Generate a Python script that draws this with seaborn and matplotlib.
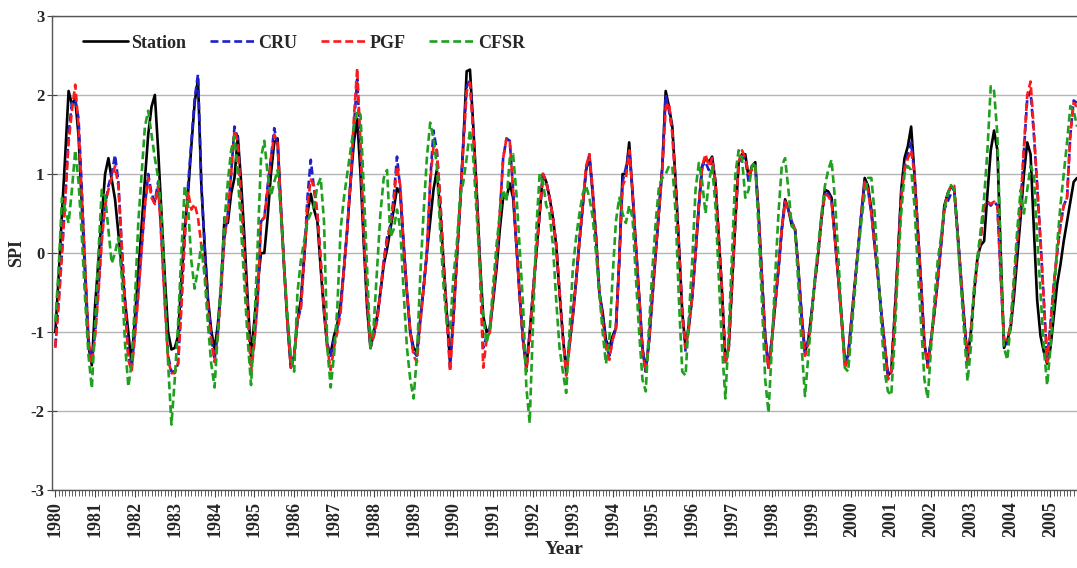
import numpy as np
import pandas as pd
import matplotlib
matplotlib.use("Agg")
import matplotlib.pyplot as plt
import seaborn as sns

# Monthly SPI series, January 1980 onwards
station = [
    -1.0, -0.3, 0.5, 1.25, 2.05, 1.88, 1.95, 1.48, 0.6, -0.3, -1.18, -1.42,
    -0.65, -0.1, 0.45, 1.0, 1.2, 0.93, 0.68, 0.25, -0.17, -0.6, -1.0, -1.41,
    -0.82, -0.25, 0.34, 0.93, 1.5, 1.85, 2.0, 1.3, 0.5, -0.3, -1.0, -1.22,
    -1.2, -1.05, -0.35, 0.3, 0.75, 1.35, 1.9, 2.2, 0.87, 0.1, -0.57, -0.98,
    -1.22, -0.9, -0.4, 0.45, 0.38, 0.75, 0.95, 1.48, 0.9, 0.2, -0.6, -1.3,
    -0.85, -0.4, 0.0, 0.0, 0.45, 1.0, 1.4, 1.45, 0.55, -0.2, -0.9, -1.45,
    -1.3, -0.85, -0.6, -0.05, 0.5, 0.75, 0.55, 0.4, -0.2, -0.75, -1.2, -1.27,
    -1.05, -0.9, -0.65, -0.2, 0.3, 0.9, 1.4, 1.7, 1.0, 0.1, -0.7, -1.2,
    -1.0, -0.8, -0.5, -0.15, 0.05, 0.3, 0.55, 0.82, 0.75, 0.1, -0.5, -1.0,
    -1.2, -1.25, -0.85, -0.45, 0.0, 0.4, 0.8, 1.05, 0.55, -0.1, -0.75, -1.4,
    -0.8, -0.1, 0.6, 1.4, 2.3, 2.32, 1.6, 0.8, -0.1, -0.8, -1.0, -0.95,
    -0.6, -0.2, 0.3, 0.7, 0.7, 0.88, 0.7, 0.1, -0.55, -1.1, -1.45, -1.0,
    -0.5, 0.0, 0.5, 1.0, 0.9, 0.7, 0.45, 0.1, -0.5, -1.05, -1.5, -1.15,
    -0.8, -0.35, 0.15, 0.6, 1.05, 1.22, 0.75, 0.2, -0.5, -0.75, -1.1, -1.2,
    -1.05, -0.95, -0.1, 1.0, 1.0, 1.4, 0.75, 0.1, -0.55, -1.2, -1.5, -1.1,
    -0.55, 0.0, 0.55, 1.1, 2.05, 1.85, 1.6, 0.9, 0.1, -0.75, -1.2, -0.9,
    -0.55, 0.0, 0.6, 1.1, 1.2, 1.15, 1.22, 0.9, 0.2, -0.5, -1.35, -1.2,
    -0.4, 0.4, 1.15, 1.25, 1.25, 0.95, 1.1, 1.15, 0.5, -0.3, -1.05, -1.45,
    -1.1, -0.65, -0.2, 0.3, 0.68, 0.55, 0.35, 0.3, -0.2, -0.8, -1.25, -1.1,
    -0.75, -0.35, 0.0, 0.45, 0.8, 0.78, 0.7, 0.2, -0.3, -0.8, -1.35, -1.3,
    -0.85, -0.4, 0.05, 0.5, 0.95, 0.85, 0.55, 0.1, -0.3, -0.75, -1.15, -1.55,
    -1.5, -0.8, -0.05, 0.8, 1.2, 1.35, 1.6, 1.0, 0.3, -0.4, -1.15, -1.4,
    -1.1, -0.75, -0.35, 0.1, 0.6, 0.75, 0.84, 0.8, 0.25, -0.3, -0.85, -1.35,
    -1.0, -0.5, -0.05, 0.1, 0.15, 0.75, 1.3, 1.55, 1.3, 0.0, -1.2, -1.1,
    -0.95, -0.55, -0.05, 0.45, 1.0, 1.4, 1.25, 0.3, -0.6, -1.05, -1.25, -1.4,
    -1.2, -0.8, -0.4, -0.15, 0.15, 0.4, 0.65, 0.9, 0.95,
]

cru = [
    -1.18, -0.6, 0.0, 0.7, 1.5, 1.9, 1.95, 1.7, 0.8, -0.2, -1.1, -1.38,
    -1.0, -0.45, 0.2, 0.6, 0.85, 1.0, 1.24, 0.9, 0.1, -0.6, -1.3, -1.45,
    -1.0, -0.5, 0.05, 0.6, 1.0, 0.75, 0.65, 0.9, 0.2, -0.6, -1.3, -1.5,
    -1.5, -1.4, -0.6, 0.2, 0.85, 1.4, 1.95, 2.26, 0.9, 0.1, -0.6, -1.05,
    -1.35, -1.0, -0.4, 0.2, 0.5, 1.0, 1.6, 1.45, 0.7, 0.0, -0.7, -1.45,
    -1.1, -0.6, 0.4, 0.45, 0.85, 1.2, 1.58, 1.35, 0.6, -0.2, -0.9, -1.4,
    -1.3, -0.85, -0.7, -0.1, 0.7, 1.18, 0.8, 0.5, -0.1, -0.7, -1.15, -1.3,
    -1.1, -0.95, -0.7, -0.2, 0.3, 0.9, 1.6, 2.2, 1.3, 0.2, -0.6, -1.2,
    -1.05, -0.85, -0.5, -0.1, 0.2, 0.35, 0.7, 1.22, 0.8, 0.1, -0.5, -1.0,
    -1.25, -1.3, -0.85, -0.45, 0.0, 0.9, 1.55, 1.3, 0.7, -0.1, -0.75, -1.45,
    -0.85, -0.1, 0.6, 1.4, 2.1, 2.2, 1.55, 0.8, -0.1, -1.2, -1.05, -0.95,
    -0.55, -0.1, 0.5, 1.2, 1.45, 1.42, 0.8, 0.1, -0.55, -1.1, -1.45, -1.05,
    -0.5, 0.0, 0.5, 1.0, 0.9, 0.7, 0.45, 0.1, -0.5, -1.05, -1.5, -1.15,
    -0.8, -0.35, 0.15, 0.6, 1.05, 1.25, 0.8, 0.2, -0.5, -0.8, -1.15, -1.3,
    -1.1, -0.95, -0.1, 0.9, 1.08, 1.3, 0.8, 0.1, -0.55, -1.2, -1.5, -1.1,
    -0.55, 0.0, 0.55, 1.1, 2.0, 1.8, 1.55, 0.9, 0.1, -0.75, -1.25, -0.95,
    -0.55, 0.0, 0.6, 1.1, 1.15, 1.05, 1.2, 0.9, 0.2, -0.5, -1.4, -1.2,
    -0.4, 0.4, 1.15, 1.2, 1.2, 0.9, 1.1, 1.1, 0.5, -0.3, -1.05, -1.45,
    -1.1, -0.65, -0.2, 0.3, 0.65, 0.55, 0.4, 0.3, -0.2, -0.8, -1.28, -1.1,
    -0.75, -0.35, 0.0, 0.45, 0.75, 0.75, 0.68, 0.2, -0.3, -0.8, -1.4, -1.3,
    -0.85, -0.4, 0.05, 0.5, 0.9, 0.8, 0.5, 0.1, -0.3, -0.75, -1.15, -1.55,
    -1.5, -0.8, -0.05, 0.75, 1.1, 1.25, 1.4, 1.0, 0.3, -0.4, -1.15, -1.4,
    -1.1, -0.75, -0.35, 0.1, 0.55, 0.65, 0.75, 0.8, 0.25, -0.3, -0.85, -1.35,
    -1.0, -0.5, -0.1, 0.2, 0.6, 0.65, 0.6, 0.65, 0.6, -0.3, -1.1, -1.15,
    -0.9, -0.4, 0.15, 0.6, 1.3, 1.95, 2.05, 1.5, 0.85, 0.15, -0.6, -1.35,
    -0.9, -0.4, 0.0, 0.35, 0.6, 0.7, 1.5, 1.93, 1.9,
]

pgf = [
    -1.2, -0.65, 0.0, 0.7, 1.4, 1.8, 2.13, 1.6, 0.7, -0.2, -1.1, -1.4,
    -1.05, -0.5, 0.15, 0.6, 0.8, 0.95, 1.1, 0.85, 0.1, -0.6, -1.35, -1.5,
    -1.05, -0.55, 0.05, 0.6, 0.95, 0.7, 0.62, 0.85, 0.15, -0.65, -1.35, -1.52,
    -1.52, -1.4, -0.7, 0.2, 0.78, 0.55, 0.62, 0.45, 0.1, -0.2, -0.7, -1.1,
    -1.38, -1.05, -0.45, 0.2, 0.5, 1.0, 1.55, 1.4, 0.65, -0.05, -0.75, -1.5,
    -1.15, -0.6, 0.4, 0.45, 0.8, 1.2, 1.5, 1.4, 0.6, -0.2, -0.9, -1.45,
    -1.3, -0.85, -0.7, -0.1, 0.6, 0.93, 0.85, 0.5, -0.1, -0.7, -1.2, -1.48,
    -1.2, -1.0, -0.75, -0.2, 0.3, 0.9, 1.7, 2.34, 1.35, 0.2, -0.6, -1.2,
    -1.05, -0.85, -0.5, -0.1, 0.15, 0.35, 0.65, 1.1, 0.85, 0.1, -0.5, -1.0,
    -1.3, -1.38, -0.9, -0.45, 0.0, 0.9, 1.35, 1.3, 0.7, -0.1, -0.8, -1.5,
    -0.85, -0.1, 0.6, 1.35, 2.05, 2.15, 1.5, 0.75, -0.2, -1.45, -1.1, -1.0,
    -0.55, -0.1, 0.5, 1.2, 1.45, 1.42, 0.8, 0.1, -0.55, -1.1, -1.5, -1.1,
    -0.5, 0.0, 0.5, 1.0, 0.9, 0.7, 0.45, 0.1, -0.5, -1.05, -1.55, -1.2,
    -0.8, -0.35, 0.15, 0.6, 1.1, 1.25, 0.8, 0.2, -0.5, -0.85, -1.2, -1.35,
    -1.1, -0.95, -0.1, 0.85, 0.95, 1.3, 0.8, 0.1, -0.55, -1.25, -1.5, -1.1,
    -0.55, 0.0, 0.55, 1.05, 1.85, 1.9, 1.5, 0.85, 0.05, -0.75, -1.2, -0.95,
    -0.55, 0.0, 0.6, 1.1, 1.25, 1.1, 1.2, 0.9, 0.2, -0.5, -1.4, -1.2,
    -0.4, 0.4, 1.15, 1.3, 1.2, 1.0, 1.05, 1.1, 0.5, -0.3, -1.1, -1.45,
    -1.1, -0.65, -0.2, 0.3, 0.65, 0.55, 0.4, 0.3, -0.2, -0.8, -1.3, -1.15,
    -0.8, -0.35, 0.0, 0.45, 0.75, 0.72, 0.65, 0.2, -0.3, -0.85, -1.45, -1.35,
    -0.85, -0.4, 0.05, 0.5, 0.9, 0.8, 0.5, 0.1, -0.3, -0.75, -1.15, -1.6,
    -1.5, -0.85, -0.1, 0.7, 1.05, 1.2, 1.3, 1.0, 0.3, -0.4, -1.15, -1.45,
    -1.1, -0.75, -0.35, 0.1, 0.55, 0.75, 0.85, 0.85, 0.25, -0.3, -0.85, -1.4,
    -1.0, -0.5, -0.1, 0.2, 0.6, 0.65, 0.62, 0.65, 0.6, -0.3, -1.1, -1.1,
    -0.9, -0.4, 0.15, 0.6, 1.35, 2.0, 2.17, 1.55, 0.85, 0.15, -0.6, -1.38,
    -0.9, -0.4, 0.0, 0.35, 0.6, 0.7, 1.5, 1.9, 1.85,
]

cfsr = [
    -0.87, -0.2, 0.7, 0.55, 0.38, 0.8, 1.3, 0.9, 0.2, -0.6, -1.3, -1.71,
    -0.9, 0.0, 0.8, 0.72, 0.3, -0.13, 0.0, 0.2, -0.3, -1.14, -1.69, -1.4,
    -0.6, 0.38, 1.0, 1.6, 1.8, 1.5, 1.2, 0.95, 0.5, -0.4, -1.4, -2.17,
    -1.6, -0.9, 0.0, 0.85, 0.6, -0.1, -0.45, -0.2, 0.1, -0.3, -0.9, -1.4,
    -1.7, -1.0, -0.3, 0.4, 0.9, 1.3, 1.48, 1.0, 0.3, -0.4, -1.1, -1.67,
    -0.9, 0.1, 1.2, 1.42, 1.0, 0.72, 0.9, 1.05, 0.5, -0.2, -0.8, -1.3,
    -1.5, -0.5, -0.1, 0.15, 0.4, 0.5, 0.6, 0.85, 0.95, 0.4, -1.2, -1.7,
    -1.3, -0.7, 0.3, 0.7, 1.0, 1.3, 1.6, 1.8, 1.75, 0.8, -0.2, -1.22,
    -0.9, -0.2, 0.5, 0.95, 1.05, 0.2, 0.3, 0.55, 0.3, -0.5, -1.2, -1.6,
    -1.84, -1.3, -0.3, 0.5, 1.2, 1.65, 1.45, 1.1, 0.3, -0.4, -0.9, -0.95,
    -0.3, 0.1, 0.7, 0.9, 1.2, 1.56, 1.2, 0.5, -0.2, -0.8, -1.14, -0.95,
    -0.4, 0.1, 0.5, 0.8, 0.65, 1.2, 1.25, 0.75, 0.05, -0.65, -1.7, -2.15,
    -0.9, 0.3, 1.0, 0.9, 0.6, 0.5, 0.1, -0.6, -1.2, -1.5, -1.77, -1.0,
    -0.2, 0.2, 0.5, 0.75, 0.85, 0.7, 0.45, 0.0, -0.5, -1.0, -1.4, -1.1,
    -0.3, 0.4, 0.7, 0.5, 0.38, 0.6, 0.45, -0.3, -1.0, -1.6, -1.75, -0.9,
    -0.2, 0.4, 0.85, 0.95, 1.0, 1.1, 1.1, 0.5, -0.6, -1.5, -1.55, -0.8,
    -0.1, 0.8, 1.14, 0.9, 0.5, 0.9, 1.1, 0.6, -0.3, -1.2, -1.84, -1.0,
    0.0, 1.0, 1.3, 1.2, 0.7, 0.8, 1.1, 1.15, 0.3, -0.6, -1.6, -2.02,
    -1.2, -0.3, 0.5, 1.1, 1.2, 0.8, 0.34, 0.3, -0.4, -1.2, -1.81, -1.3,
    -0.8, -0.3, 0.1, 0.5, 0.85, 1.05, 1.18, 0.7, 0.0, -0.8, -1.45, -1.5,
    -1.0, -0.5, 0.0, 0.4, 0.75, 0.95, 0.95, 0.5, -0.2, -0.9, -1.5, -1.75,
    -1.8, -1.1, -0.2, 0.5, 1.0, 1.1, 1.05, 0.6, -0.2, -0.9, -1.6, -1.84,
    -1.2, -0.6, -0.1, 0.2, 0.55, 0.75, 0.86, 0.8, 0.2, -0.4, -1.0, -1.62,
    -1.2, -0.4, -0.05, 0.3, 0.7, 1.3, 2.11, 2.05, 1.5, 0.0, -1.2, -1.35,
    -0.9, -0.3, 0.3, 0.8, 0.5, 0.8, 1.1, 1.0, 0.2, -0.5, -1.2, -1.67,
    -1.2, -0.6, 0.1, 0.6, 1.0, 1.4, 1.86, 1.8, 1.6,
]

series_names = ["Station", "CRU", "PGF", "CFSR"]
year_labels = [str(y) for y in range(1980, 2006)]

frames = []
for name, vals in zip(series_names, [station, cru, pgf, cfsr]):
    frames.append(pd.DataFrame({"month": np.arange(len(vals)), "SPI": vals, "source": name}))
df = pd.concat(frames, ignore_index=True)

sns.set_theme(style="white")
plt.rcParams["font.family"] = ["Liberation Serif", "DejaVu Serif"]
plt.rcParams["font.weight"] = "bold"

fig = plt.figure(figsize=(10.77, 5.68), dpi=100)
ax = fig.add_axes([0.0483, 0.137, 0.9517, 0.835])

palette = {"Station": "#000000", "CRU": "#1f1fcc", "PGF": "#ff1a1a", "CFSR": "#1fa01f"}
dash_map = {"Station": "", "CRU": (3, 1.5), "PGF": (3, 1.5), "CFSR": (3, 1.5)}

sns.lineplot(data=df, x="month", y="SPI", hue="source", style="source",
             hue_order=series_names, style_order=series_names,
             palette=palette, dashes=dash_map, linewidth=1.9, ax=ax,
             estimator=None, sort=False)

ax.set_xlim(-1, 307.8)
ax.set_ylim(-3, 3)
ax.set_yticks(range(-3, 4))
ax.set_yticklabels([str(v) for v in range(-3, 4)], fontsize=12, fontweight="bold")
ax.yaxis.grid(True, color="#b5b5b5", linewidth=1.0)
ax.xaxis.grid(False)
ax.set_axisbelow(True)

ax.set_xticks(np.arange(len(year_labels)) * 12)
ax.set_xticklabels(year_labels, rotation=90, fontsize=13, fontweight="bold")
ax.set_xticks(np.arange(0, 309, 1), minor=True)
ax.tick_params(axis="x", which="major", direction="out", length=5, width=0.8,
               color="#444444", bottom=True, pad=3)
ax.tick_params(axis="x", which="minor", direction="out", length=4, width=0.6,
               color="#444444", bottom=True)
ax.tick_params(axis="y", which="major", direction="inout", length=7, width=0.8,
               color="#444444", left=True, pad=2)

for side in ["left", "bottom", "top"]:
    ax.spines[side].set_visible(True)
    ax.spines[side].set_color("#555555")
    ax.spines[side].set_linewidth(1.0)
ax.spines["right"].set_visible(False)

ax.set_xlabel("Year", fontsize=14, fontweight="bold", labelpad=3)
ax.set_ylabel("SPI", fontsize=13, fontweight="bold", labelpad=4)

leg = ax.legend(loc="upper left", bbox_to_anchor=(0.014, 0.995), ncol=4, frameon=False,
                prop={"family": "Liberation Serif", "weight": "bold", "size": 13},
                handlelength=2.5, handletextpad=0.2, columnspacing=1.3)
for h in leg.get_lines():
    h.set_linewidth(1.9)

fig.savefig("out.png", dpi=100)
